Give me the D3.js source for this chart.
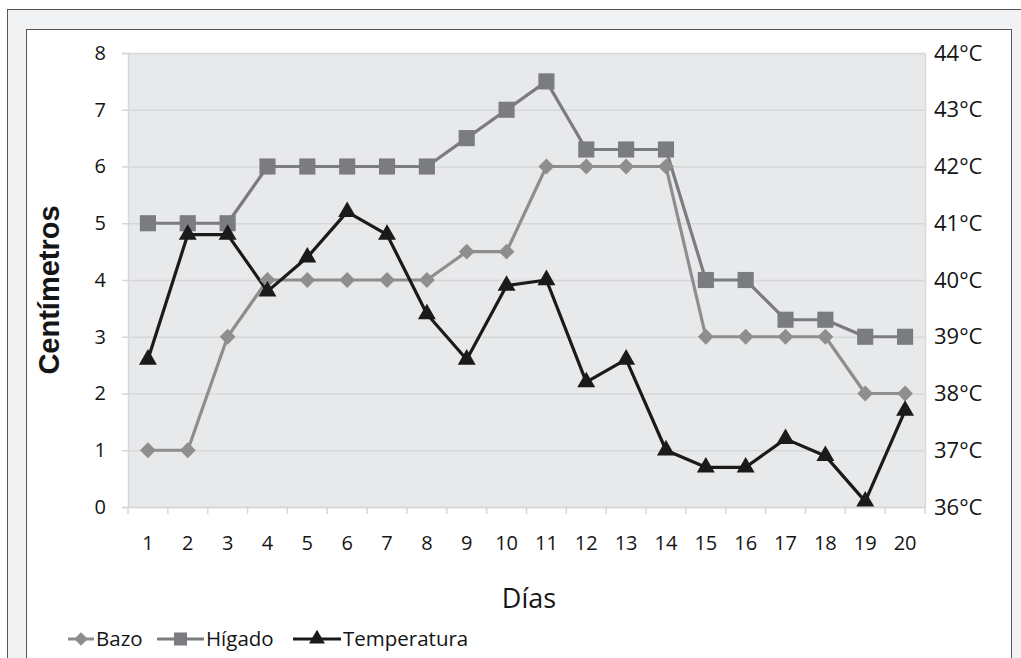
<!DOCTYPE html>
<html><head><meta charset="utf-8">
<script src="https://cdn.jsdelivr.net/npm/d3@7"></script>
<style>body{margin:0;background:#fff;}svg{display:block;}</style>
</head><body>
<script>
const days = [1,2,3,4,5,6,7,8,9,10,11,12,13,14,15,16,17,18,19,20];
const bazo = [1,1,3,4,4,4,4,4,4.5,4.5,6,6,6,6,3,3,3,3,2,2];
const higado = [5,5,5,6,6,6,6,6,6.5,7,7.5,6.3,6.3,6.3,4,4,3.3,3.3,3,3];
const temperatura = [38.6,40.8,40.8,39.8,40.4,41.2,40.8,39.4,38.6,39.9,40.0,38.2,38.6,37.0,36.7,36.7,37.2,36.9,36.1,37.7];
const cmTicks = [0,1,2,3,4,5,6,7,8];
const tempTicks = [36,37,38,39,40,41,42,43,44];
const seriesNames = ["Bazo","Hígado","Temperatura"];

const W = 1021, H = 658;
const svg = d3.select("body").append("svg").attr("width",W).attr("height",H);
const font = "'Open Sans', sans-serif";
const txt = "#151515";

// frames
svg.append("rect").attr("x",7.5).attr("y",9.5).attr("width",W).attr("height",H)
  .attr("fill","#f1f2f3").attr("stroke","#555").attr("stroke-width",1);
svg.append("rect").attr("x",26.5).attr("y",29.5).attr("width",985).attr("height",H)
  .attr("fill","#fff").attr("stroke","#555").attr("stroke-width",1);

const x = d3.scaleBand().domain(days).range([128,925]);
const y = d3.scaleLinear().domain([0,8]).range([507,53]);
const yT = d3.scaleLinear().domain([36,44]).range([507,53]);

// plot bg
svg.append("rect").attr("x",128).attr("y",53).attr("width",797).attr("height",454).attr("fill","#e8e9eb");

// grid
const gGrid = svg.append("g").attr("transform","translate(128,0)")
  .call(d3.axisLeft(y).tickValues(cmTicks).tickSize(-797).tickFormat(""));
gGrid.selectAll("line").attr("stroke","#d6d7d9").attr("stroke-width",1.5);
gGrid.select(".domain").remove();

// left ticks marks + labels
const gL = svg.append("g").attr("transform","translate(128,0)")
  .call(d3.axisLeft(y).tickValues(cmTicks).tickSize(6).tickPadding(16));
gL.select(".domain").attr("stroke","#d6d7d9").attr("stroke-width",1.5);
gL.selectAll("line").attr("stroke","#d6d7d9").attr("stroke-width",1.5);
gL.selectAll("text").attr("font-family",font).attr("font-size",20).attr("fill",txt);

// right labels
const gR = svg.append("g").attr("transform","translate(925,0)")
  .call(d3.axisRight(yT).tickValues(tempTicks).tickSize(0).tickPadding(9).tickFormat(d=>d+"°C"));
gR.select(".domain").attr("stroke","#d6d7d9").attr("stroke-width",1.5);
gR.selectAll("text").attr("font-family",font).attr("font-size",22).attr("fill",txt);

// bottom axis
const gB = svg.append("g").attr("transform","translate(0,507)")
  .call(d3.axisBottom(x).tickSize(0).tickPadding(29));
gB.select(".domain").attr("stroke","#d6d7d9").attr("stroke-width",1.5);
gB.selectAll("text").attr("font-family",font).attr("font-size",20).attr("fill",txt);
svg.append("g").selectAll("line").data(days.concat([21])).join("line")
  .attr("x1",d=>d<=20?x(d):x(20)+x.bandwidth()).attr("x2",d=>d<=20?x(d):x(20)+x.bandwidth())
  .attr("y1",507).attr("y2",514).attr("stroke","#d6d7d9").attr("stroke-width",1.5);

const cx = d=>x(d)+x.bandwidth()/2;

function drawLine(vals, scale, color){
  const line = d3.line().x((d,i)=>cx(days[i])).y(d=>scale(d));
  svg.append("path").datum(vals).attr("d",line).attr("fill","none")
    .attr("stroke",color).attr("stroke-width",3.2).attr("stroke-linejoin","round");
}
const cBazo = "#8e8e8e", cHig = "#7b7c7f", cTemp = "#1a1a1a";
drawLine(bazo, y, cBazo);
drawLine(higado, y, cHig);
drawLine(temperatura, yT, cTemp);

const diamond = d3.symbol().type(d3.symbolDiamond2).size(160)();
const square = d3.symbol().type(d3.symbolSquare).size(260)();
const tri = d3.symbol().type(d3.symbolTriangle).size(140)();

svg.append("g").selectAll("path").data(bazo).join("path")
  .attr("d",diamond).attr("transform",(d,i)=>`translate(${cx(days[i])},${y(d)})`).attr("fill",cBazo);
svg.append("g").selectAll("path").data(higado).join("path")
  .attr("d",square).attr("transform",(d,i)=>`translate(${cx(days[i])},${y(d)})`).attr("fill",cHig);
svg.append("g").selectAll("path").data(temperatura).join("path")
  .attr("d",tri).attr("transform",(d,i)=>`translate(${cx(days[i])},${yT(d)})`).attr("fill",cTemp);

// titles
svg.append("text").attr("transform","translate(59,290) rotate(-90)").attr("text-anchor","middle")
  .attr("font-family","'Liberation Sans', Arial, sans-serif").attr("font-weight","bold").attr("font-size",29)
  .attr("fill",txt).text("Centímetros");
svg.append("text").attr("x",529).attr("y",608).attr("text-anchor","middle")
  .attr("font-family",font).attr("font-size",27).attr("fill",txt).text("Días");

// legend
const leg = svg.append("g").attr("font-family",font).attr("font-size",20.5).attr("fill",txt);
const legItems = [
  {name:seriesNames[0], x:68, w:26, color:cBazo, sym:d3.symbol().type(d3.symbolDiamond2).size(120)()},
  {name:seriesNames[1], x:157, w:47, color:cHig, sym:d3.symbol().type(d3.symbolSquare).size(170)()},
  {name:seriesNames[2], x:293, w:48, color:cTemp, sym:d3.symbol().type(d3.symbolTriangle).size(110)()}
];
legItems.forEach(it=>{
  leg.append("line").attr("x1",it.x).attr("x2",it.x+it.w).attr("y1",639).attr("y2",639)
    .attr("stroke",it.color).attr("stroke-width",3);
  leg.append("path").attr("d",it.sym).attr("transform",`translate(${it.x+it.w/2},639)`).attr("fill",it.color);
  leg.append("text").attr("x",it.x+it.w+2).attr("y",646).text(it.name);
});
</script>
</body></html>
